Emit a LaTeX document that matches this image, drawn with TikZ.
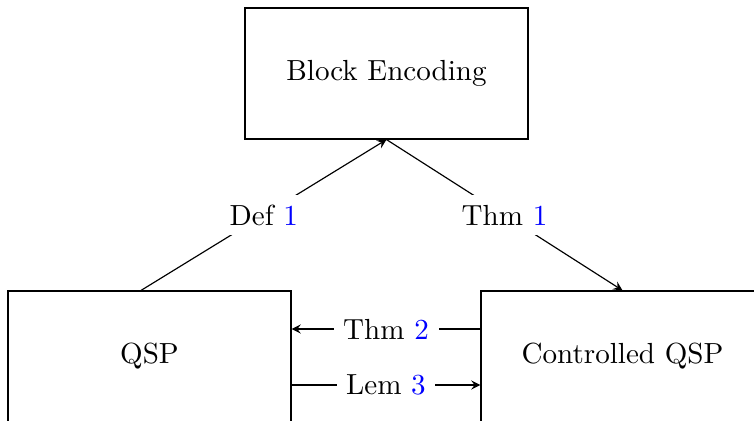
\documentclass[tikz,border=0pt]{standalone}
\usetikzlibrary{arrows}

\tikzset{
  block/.style={draw, minimum width=97.33pt, minimum height=45.05pt, inner sep=0pt},
  rel/.style={fill=white, midway},
  link/.style={->, >=stealth},
}
\newcommand{\refnum}[1]{\textcolor{blue}{#1}}

\begin{document}
\begin{tikzpicture}[x=0.3439pt, y=-0.3439pt]
  \path[use as bounding box] (0,0) rectangle (754,420);
  \clip (0,0) rectangle (754,420);

  % the three blocks
  \node[block] (be)  at (386.5,73.5)  {Block Encoding};
  \node[block] (qsp) at (149.5,356.5) {QSP};
  \node[block] (cq)  at (622.5,356.5) {Controlled QSP};

  % relations between them
  \draw[link] ([xshift=-2.92pt]qsp.north) -- (be.south)
    node[rel] {Def \refnum{1}};
  \draw[link] (be.south) -- (cq.north)
    node[rel] {Thm \refnum{1}};
  \draw[link] ([yshift=9.46pt]cq.west) -- ([yshift=9.46pt]qsp.east)
    node[rel] {Thm \refnum{2}};
  \draw[link] ([yshift=-9.8pt]qsp.east) -- ([yshift=-9.8pt]cq.west)
    node[rel] {Lem \refnum{3}};
\end{tikzpicture}
\end{document}
